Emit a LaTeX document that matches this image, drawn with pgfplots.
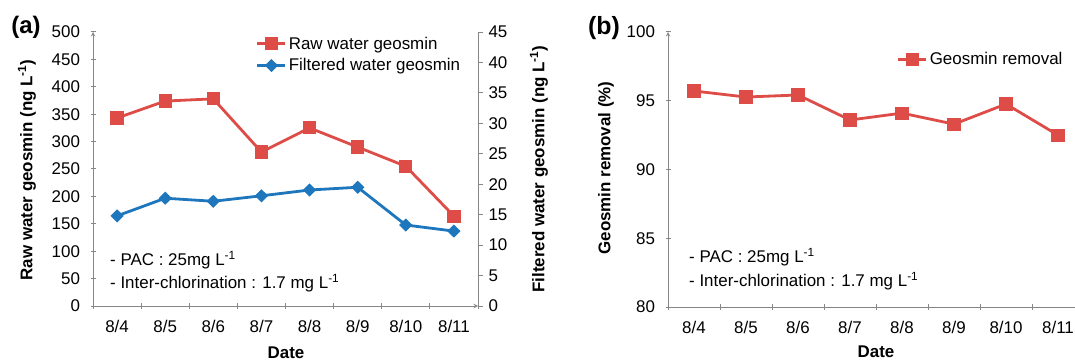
\documentclass[border=0pt]{standalone}
\usepackage{fontspec}
\setmainfont{Liberation Sans}
\usepackage{pgfplots}
\pgfplotsset{compat=1.18}
\definecolor{cred}{RGB}{222,76,72}
\definecolor{cblue}{RGB}{30,118,188}
\definecolor{caxis}{RGB}{134,134,134}
\newcommand{\fs}{\fontsize{17}{20}\selectfont}
\pgfplotsset{
  base/.style={
    scale only axis, anchor=south west,
    axis line style={caxis, line width=1bp, -},
    every outer x axis line/.append style={-},
    every outer y axis line/.append style={-},
    tick style={caxis, line width=1bp},
    tick align=outside, major tick length=5bp,
    tick label style={font=\fs},
    xticklabel style={yshift=-8bp},
    /pgf/number format/assume math mode=true,
    xmin=-0.5, xmax=7.5,
    xtick={-0.5,0.5,...,7.5},
    x tick label as interval,
    xticklabels={8/4,8/5,8/6,8/7,8/8,8/9,8/10,8/11},
    clip=false,
    legend image code/.code={\draw[mark repeat=2, mark phase=2, ##1] plot coordinates {(0bp,0bp) (14bp,0bp) (28bp,0bp)};},
    legend style={draw=none, fill=none, font=\fs, anchor=north west, inner sep=0pt, row sep=4bp},
    legend cell align=left,
  },
  redline/.style={cred, line width=2.8bp, mark=square*, mark size=5.2bp, mark options={solid}},
  blueline/.style={cblue, line width=2.8bp, mark=diamond*, mark size=4.6bp, mark options={solid, xscale=1.35}},
}
\begin{document}
\begin{tikzpicture}
\useasboundingbox (0,0) rectangle (1075bp,360bp);
% ---- (a) primary axis
\begin{axis}[base, at={(93bp,54bp)}, width=385bp, height=274bp,
  axis x line=bottom, axis y line=left,
  yticklabel style={xshift=-7bp},
  ymin=0, ymax=500, ytick={0,50,...,500}]
\addplot[redline] coordinates {(0,343)(1,374)(2,378)(3,281)(4,325)(5,290)(6,255)(7,164)};
\end{axis}
% ---- (a) secondary axis
\begin{axis}[base, at={(93bp,54bp)}, width=385bp, height=274bp,
  axis x line=none, axis y line*=right,
  yticklabel style={xshift=2bp},
  ymin=0, ymax=45, ytick={0,5,...,45},
  legend style={at={(0.423,0.99)}}]
\addlegendimage{redline}
\addlegendentry{Raw water geosmin}
\addplot[blueline] coordinates {(0,14.8)(1,17.7)(2,17.2)(3,18.1)(4,19.05)(5,19.5)(6,13.3)(7,12.3)};
\addlegendentry{Filtered water geosmin}
\end{axis}
% ---- (b)
\begin{axis}[base, at={(668bp,53bp)}, width=416bp, height=275bp,
  axis x line=bottom, axis y line=left,
  yticklabel style={xshift=-7bp},
  ymin=80, ymax=100, ytick={80,85,...,100},
  legend style={at={(0.55,0.934)}}]
\addplot[redline] coordinates {(0,95.71)(1,95.27)(2,95.42)(3,93.6)(4,94.1)(5,93.3)(6,94.76)(7,92.5)};
\addlegendentry{Geosmin removal}
\end{axis}
% ---- texts
\node[font=\bfseries\fontsize{24}{26}\selectfont] at (26bp,333bp) {(a)};
\node[font=\bfseries\fontsize{25}{27}\selectfont] at (604bp,332bp) {(b)};
\node[font=\bfseries\fs, rotate=90] at (27bp,190bp) {Raw water geosmin (ng L\textsuperscript{-1})};
\node[font=\bfseries\fs, rotate=90] at (539bp,191bp) {Filtered water geosmin (ng L\textsuperscript{-1})};
\node[font=\bfseries\fs, rotate=90] at (606bp,192bp) {Geosmin removal (\%)};
\node[font=\bfseries\fs, anchor=base] at (286bp,2bp) {Date};
\node[font=\bfseries\fs, anchor=base] at (876bp,3bp) {Date};
\node[font=\fs, anchor=base west, inner sep=0pt] at (110bp,94bp) {- PAC : 25mg L\textsuperscript{-1}};
\node[font=\fs, anchor=base west, inner sep=0pt] at (110bp,71bp) {- Inter-chlorination : 1.7 mg L\textsuperscript{-1}};
\node[font=\fs, anchor=base west, inner sep=0pt] at (689bp,97bp) {- PAC : 25mg L\textsuperscript{-1}};
\node[font=\fs, anchor=base west, inner sep=0pt] at (689bp,73bp) {- Inter-chlorination : 1.7 mg L\textsuperscript{-1}};
\end{tikzpicture}
\end{document}
